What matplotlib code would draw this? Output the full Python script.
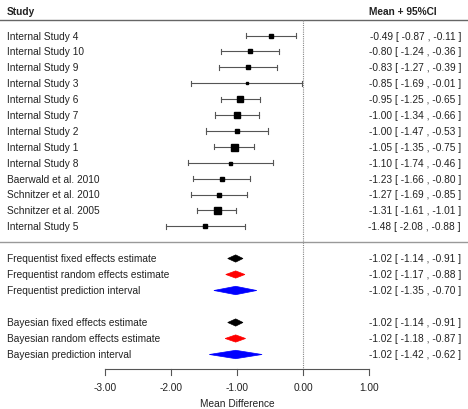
import matplotlib.pyplot as plt
from matplotlib.patches import Polygon

plt.rcParams['font.family'] = ['Liberation Sans', 'DejaVu Sans']

# Study-level results
studies = ['Internal Study 4', 'Internal Study 10', 'Internal Study 9', 'Internal Study 3',
           'Internal Study 6', 'Internal Study 7', 'Internal Study 2', 'Internal Study 1',
           'Internal Study 8', 'Baerwald et al. 2010', 'Schnitzer et al. 2010',
           'Schnitzer et al. 2005', 'Internal Study 5']
means = [-0.49, -0.80, -0.83, -0.85, -0.95, -1.00, -1.00, -1.05, -1.10, -1.23, -1.27, -1.31, -1.48]
lower = [-0.87, -1.24, -1.27, -1.69, -1.25, -1.34, -1.47, -1.35, -1.74, -1.66, -1.69, -1.61, -2.08]
upper = [-0.11, -0.36, -0.39, -0.01, -0.65, -0.66, -0.53, -0.75, -0.46, -0.80, -0.85, -1.01, -0.88]
weights = [5.0, 4.0, 4.0, 2.5, 6.0, 6.0, 4.5, 7.0, 3.0, 4.5, 5.0, 7.0, 3.5]  # square size, px

# Pooled estimates
freq_labels = ['Frequentist fixed effects estimate', 'Frequentist random effects estimate',
               'Frequentist prediction interval']
freq_mean = [-1.02, -1.02, -1.02]
freq_lower = [-1.14, -1.17, -1.35]
freq_upper = [-0.91, -0.88, -0.70]

bayes_labels = ['Bayesian fixed effects estimate', 'Bayesian random effects estimate',
                'Bayesian prediction interval']
bayes_mean = [-1.02, -1.02, -1.02]
bayes_lower = [-1.14, -1.18, -1.42]
bayes_upper = [-0.91, -0.87, -0.62]

summary_colors = ['black', 'red', 'blue']
xticks = [-3, -2, -1, 0, 1]

W, H = 468, 410
fig = plt.figure(figsize=(W / 100, H / 100), dpi=100)
ax = fig.add_axes([0, 0, 1, 1])
# -3 sits at 105 px, +1 at 369 px -> 66 px per unit
ppu = 66.0
x0 = 0 - 303 / ppu
x1 = x0 + W / ppu
ax.set_xlim(x0, x1)
ax.set_ylim(H, 0)
ax.axis('off')

px = lambda p: x0 + p / ppu  # pixel column -> data x
fs = 7.3
tc = '#222222'

# headers
ax.text(px(7), 12, 'Study', fontsize=fs, fontweight='bold', va='center', color=tc)
ax.text(px(369), 12, 'Mean + 95%CI', fontsize=fs, fontweight='bold', va='center', color=tc)
ax.plot([x0, x1], [21, 21], color='#666666', lw=1.0)

# zero reference
ax.plot([0, 0], [21, 370], color='#888888', lw=0.8, ls=(0, (1, 1)))

def fmt(m, lo, hi):
    return f'{m:.2f} [ {lo:.2f} , {hi:.2f} ]'

step = 15.9
cap = 2.6
for i, name in enumerate(studies):
    y = 36.5 + i * step
    ax.text(px(7), y, name, fontsize=fs, va='center', color=tc)
    ax.plot([lower[i], upper[i]], [y, y], color='#555555', lw=0.8)
    for xe in (lower[i], upper[i]):
        ax.plot([xe, xe], [y - cap, y + cap], color='#555555', lw=0.8)
    ax.plot(means[i], y, marker='s', color='black', ms=weights[i] * 0.72, mec='black')
    ax.text(px(461), y, fmt(means[i], lower[i], upper[i]), fontsize=fs, va='center',
            ha='right', color=tc)

ax.plot([x0, x1], [243, 243], color='#999999', lw=1.0)

def diamonds(labels, m, lo, hi, ys):
    for j in range(len(labels)):
        y = ys[j]
        h = 3.6 if j < 2 else 4.2
        poly = Polygon([(lo[j], y), (m[j], y - h), (hi[j], y), (m[j], y + h)],
                       closed=True, facecolor=summary_colors[j],
                       edgecolor=summary_colors[j], lw=0.5)
        ax.add_patch(poly)
        ax.text(px(7), y, labels[j], fontsize=fs, va='center', color=tc)
        ax.text(px(461), y, fmt(m[j], lo[j], hi[j]), fontsize=fs, va='center',
                ha='right', color=tc)

diamonds(freq_labels, freq_mean, freq_lower, freq_upper, [259.5, 275.5, 291.5])
diamonds(bayes_labels, bayes_mean, bayes_lower, bayes_upper, [323.5, 339.5, 355.5])

# x axis
ax.plot([xticks[0], xticks[-1]], [370, 370], color='#555555', lw=0.8)
for t in xticks:
    ax.plot([t, t], [370, 376], color='#555555', lw=0.8)
    ax.text(t, 388, f'{t:.2f}', fontsize=fs, ha='center', va='center', color=tc)
ax.text(-1, 404, 'Mean Difference', fontsize=fs, ha='center', va='center', color=tc)

fig.savefig('out.png', dpi=100)
